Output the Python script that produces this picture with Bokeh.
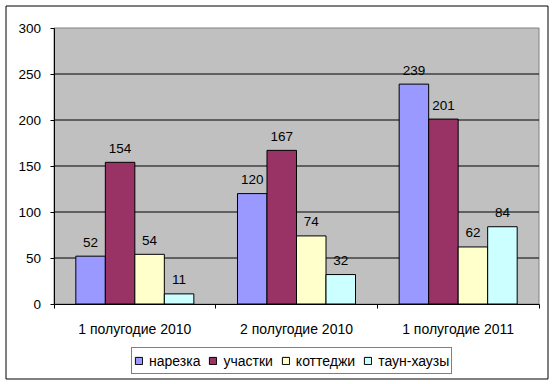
from bokeh.plotting import figure
from bokeh.models import (Range1d, FixedTicker, Legend, LegendItem, ColumnDataSource,
                          BoxAnnotation)
from bokeh.core.properties import value
from bokeh.embed import file_html
from bokeh.resources import INLINE

categories = ["1 полугодие 2010", "2 полугодие 2010", "1 полугодие 2011"]
series = ["нарезка", "участки", "коттеджи", "таун-хаузы"]
narezka = [52, 120, 239]
uchastki = [154, 167, 201]
kottedzhi = [54, 74, 62]
taunhauzy = [11, 32, 84]
colors = ["#9999FF", "#993366", "#FFFFCC", "#CCFFFF"]
y_ticks = [0, 50, 100, 150, 200, 250, 300]

FONT = "Liberation Sans"
W, H = 554, 384
# plot-area placement in pixels (frame = whole canvas)
PL, PR, PT, PB = 53.5, 538.5, 27.5, 303.5
n = len(categories)
ymax = y_ticks[-1]
xs_per_px = n / (PR - PL)
ys_per_px = ymax / (PB - PT)
x_range = Range1d(-PL * xs_per_px, n + (W - PR) * xs_per_px)
y_range = Range1d(-(H - PB) * ys_per_px, ymax + PT * ys_per_px)

p = figure(width=W, height=H, x_range=x_range, y_range=y_range,
           output_backend="svg", toolbar_location=None,
           min_border_left=0, min_border_right=0, min_border_top=0, min_border_bottom=0,
           background_fill_color="white", border_fill_color="white",
           outline_line_color=None)
p.xgrid.visible = False
p.ygrid.visible = False

# plot area
p.quad(left=[0], right=[n], bottom=[0], top=[ymax],
       fill_color="#C0C0C0", line_color="#808080", line_width=1)
# gridlines
grid_vals = [t for t in y_ticks if 0 < t < ymax]
p.segment(x0=[0] * len(grid_vals), x1=[n] * len(grid_vals), y0=grid_vals, y1=grid_vals,
          line_color="black", line_width=1)

bar_w = 0.1825
items = []
all_series = [narezka, uchastki, kottedzhi, taunhauzy]
for j, (name, vals, col) in enumerate(zip(series, all_series, colors)):
    xs = [i + 0.5 + (j - 1.5) * bar_w for i in range(n)]
    src = ColumnDataSource(dict(x=xs, top=vals, label=[str(v) for v in vals]))
    r = p.vbar(x="x", top="top", width=bar_w, bottom=0, source=src,
               fill_color=col, line_color="black", line_width=1)
    p.text(x="x", y="top", text="label", source=src, text_align="center",
           text_baseline="alphabetic", y_offset=-14, text_font=value(FONT),
           text_font_size="13.5px", text_color="black")
    items.append(LegendItem(label=name, renderers=[r]))

# x axis
centers = [i + 0.5 for i in range(n)]
bounds = [float(i) for i in range(n + 1)]
xa = p.xaxis[0]
xa.fixed_location = 0
xa.bounds = (0, n)
xa.ticker = FixedTicker(ticks=centers, minor_ticks=bounds)
xa.major_label_overrides = {c: lab for c, lab in zip(centers, categories)}
xa.major_tick_out = 0
xa.major_tick_in = 0
xa.minor_tick_out = 4
xa.minor_tick_in = 0
xa.minor_tick_line_color = "black"
xa.axis_line_color = "black"
xa.major_label_standoff = 13
xa.major_label_text_font = FONT
xa.major_label_text_font_size = "14px"
xa.major_label_text_color = "black"

ya = p.yaxis[0]
ya.fixed_location = 0
ya.bounds = (0, ymax)
ya.ticker = FixedTicker(ticks=y_ticks)
ya.major_tick_out = 4
ya.major_tick_in = 0
ya.minor_tick_line_color = None
ya.major_tick_line_color = "black"
ya.axis_line_color = "black"
ya.major_label_standoff = 9
ya.major_label_text_font = FONT
ya.major_label_text_font_size = "13.5px"
ya.major_label_text_color = "black"

legend = Legend(items=items, orientation="horizontal", location=(131, 10),
                border_line_color="black", border_line_width=1,
                background_fill_color="white", background_fill_alpha=1,
                padding=2, spacing=8, margin=0,
                glyph_width=9, glyph_height=9, label_standoff=6, label_height=21,
                label_text_font=FONT, label_text_font_size="14px", label_text_color="black")
p.add_layout(legend, "center")

# chart-area border
p.add_layout(BoxAnnotation(left=5.5, right=547.5, top=378.5, bottom=5.5,
                           left_units="screen", right_units="screen",
                           top_units="screen", bottom_units="screen",
                           fill_alpha=0, line_color="black", line_width=1, line_alpha=1))

open("out.html", "w").write(file_html(p, INLINE))
